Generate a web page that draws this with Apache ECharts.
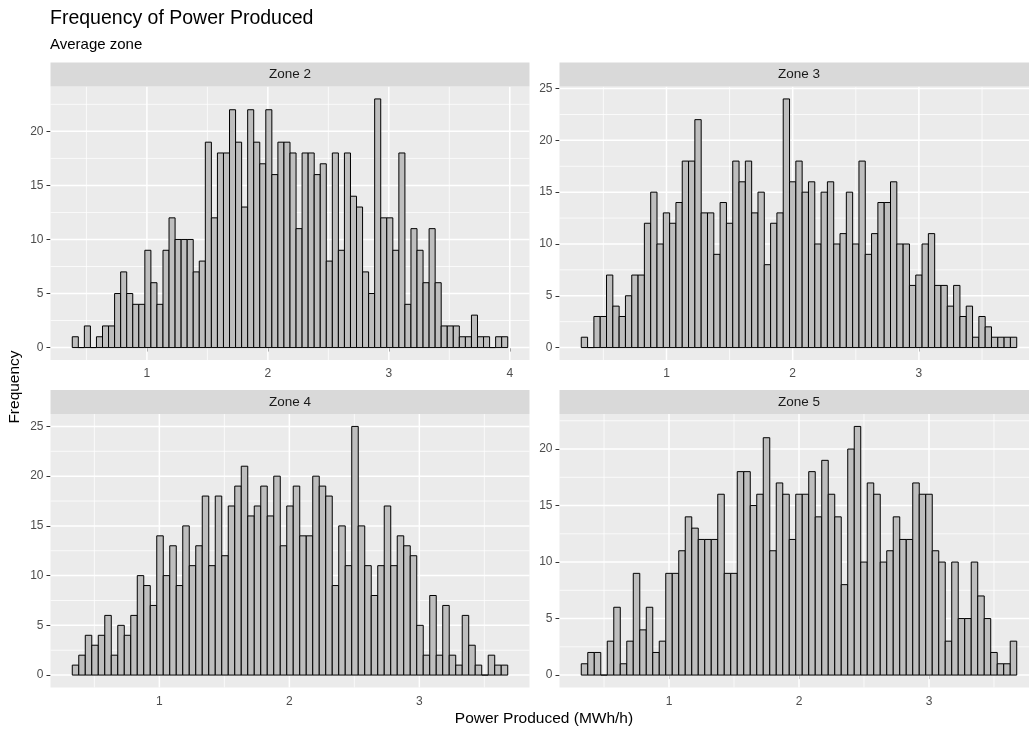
<!DOCTYPE html>
<html>
<head>
<meta charset="utf-8">
<script src="https://cdn.jsdelivr.net/npm/echarts@6/dist/echarts.min.js"></script>
<style>html,body{margin:0;padding:0;background:#fff}#c{width:1029px;height:731px}</style>
</head>
<body>
<div id="c"></div>
<script>
// ---------------- data ----------------
const zoneNames = ['Zone 2', 'Zone 3', 'Zone 4', 'Zone 5'];
const binWidth = 0.05;
const binStarts = [0.383, 0.325, 0.33, 0.325];

const zone2Counts = [1,0,2,0,1,2,2,5,7,5,4,4,9,6,4,9,12,10,10,10,7,8,
  19,12,18,18,22,19,13,22,19,17,22,16,19,19,18,11,18,18,16,17,8,18,9,18,14,13,7,
  5,23,12,12,9,18,4,11,9,6,11,6,2,2,2,1,1,3,1,1,0,1,1];
const zone3Counts = [1,0,3,3,7,4,3,5,7,7,12,15,10,13,12,14,18,18,22,13,13,9,
  14,12,18,16,18,13,15,8,12,13,24,16,18,15,16,10,15,16,10,11,15,10,18,
  9,11,14,14,16,10,10,6,7,10,11,6,6,4,6,3,4,1,3,2,1,1,1,1];
const zone4Counts = [1,2,4,3,4,6,2,5,4,6,10,9,7,14,10,13,9,15,11,13,18,11,
  18,12,17,19,21,16,17,19,16,20,13,17,19,14,14,20,19,18,9,15,11,25,
  15,11,8,11,17,11,14,13,12,5,2,8,2,7,2,1,6,3,1,0,2,1,1];
const zone5Counts = [1,2,2,0,3,6,1,3,9,4,6,2,3,9,9,11,14,13,12,12,12,16,
  9,9,18,18,15,16,21,11,17,16,12,16,16,18,14,19,16,14,8,20,22,10,17,
  16,10,11,14,12,12,17,16,16,11,10,3,10,5,5,10,7,5,2,1,1,3];

const xTicks = [[1,2,3,4],[1,2,3],[1,2,3],[1,2,3]];
const xMinor = [[0.5,1.5,2.5,3.5],[0.5,1.5,2.5,3.5],[0.5,1.5,2.5,3.5],[0.5,1.5,2.5,3.5]];
const yTicks = [[0,5,10,15,20],[0,5,10,15,20,25],[0,5,10,15,20,25],[0,5,10,15,20]];
const yMinor = [[2.5,7.5,12.5,17.5,22.5],[2.5,7.5,12.5,17.5,22.5],[2.5,7.5,12.5,17.5,22.5],[2.5,7.5,12.5,17.5,22.5]];

const titleText = 'Frequency of Power Produced';
const subtitleText = 'Average zone';
const xTitle = 'Power Produced (MWh/h)';
const yTitle = 'Frequency';

// ---------------- layout ----------------
const FONT = '"Liberation Sans", Arial, Helvetica, sans-serif';
const panels = [
  {left: 50.5, top: 86.5, width: 479, height: 273.5},
  {left: 559.5, top: 86.5, width: 479, height: 273.5},
  {left: 50.5, top: 414, width: 479, height: 273.5},
  {left: 559.5, top: 414, width: 479, height: 273.5}
];
const stripH = 24;

const countsByZone = [zone2Counts, zone3Counts, zone4Counts, zone5Counts];
const grids = [], xAxes = [], yAxes = [], series = [], graphics = [];

panels.forEach((p, i) => {
  const counts = countsByZone[i];
  const x0 = binStarts[i];
  const x1 = x0 + counts.length * binWidth;
  const xPad = (x1 - x0) * 0.05;
  const xMin = x0 - xPad, xMax = x1 + xPad;
  const yTop = Math.max.apply(null, counts);
  const yMin = -0.05 * yTop, yMax = 1.05 * yTop;

  grids.push({left: p.left, top: p.top, width: p.width, height: p.height,
    show: true, backgroundColor: '#ebebeb', borderWidth: 0, containLabel: false, outerBoundsMode: 'none'});

  xAxes.push({type: 'value', gridIndex: i, min: xMin, max: xMax,
    axisLine: {show: false},
    axisTick: {show: true, customValues: xTicks[i], length: 4, lineStyle: {color: '#333333', width: 1}},
    axisLabel: {show: true, customValues: xTicks[i], color: '#4d4d4d', fontSize: 12, fontFamily: FONT, margin: 8},
    splitLine: {show: false}, minorSplitLine: {show: false}});
  yAxes.push({type: 'value', gridIndex: i, min: yMin, max: yMax,
    axisLine: {show: false},
    axisTick: {show: true, customValues: yTicks[i], length: 4, lineStyle: {color: '#333333', width: 1}},
    axisLabel: {show: true, customValues: yTicks[i], color: '#4d4d4d', fontSize: 12, fontFamily: FONT, margin: 7},
    splitLine: {show: false}, minorSplitLine: {show: false}});

  // grid lines (drawn through the axis scales)
  const gridData = [];
  xMinor[i].forEach(v => gridData.push([v, 0, 0]));
  yMinor[i].forEach(v => gridData.push([v, 1, 0]));
  xTicks[i].forEach(v => gridData.push([v, 0, 1]));
  yTicks[i].forEach(v => gridData.push([v, 1, 1]));
  series.push({type: 'custom', xAxisIndex: i, yAxisIndex: i, z: 1, silent: true,
    encode: {x: 0, y: 0},
    data: gridData,
    renderItem: function (params, api) {
      const v = api.value(0), kind = api.value(1), major = api.value(2);
      const cs = params.coordSys;
      const lw = major ? 1.5 : 0.75;
      if (kind === 0) {
        const x = api.coord([v, 0])[0];
        return {type: 'line', shape: {x1: x, y1: cs.y, x2: x, y2: cs.y + cs.height},
          style: {stroke: '#ffffff', lineWidth: lw}};
      } else {
        const y = api.coord([1, v])[1];
        return {type: 'line', shape: {x1: cs.x, y1: y, x2: cs.x + cs.width, y2: y},
          style: {stroke: '#ffffff', lineWidth: lw}};
      }
    }});

  // histogram bars
  const barData = counts.map((c, k) => [x0 + k * binWidth, x0 + (k + 1) * binWidth, c]);
  series.push({type: 'custom', xAxisIndex: i, yAxisIndex: i, z: 2, silent: true,
    encode: {x: [0, 1], y: 2},
    data: barData,
    renderItem: function (params, api) {
      const a = api.coord([api.value(0), api.value(2)]);
      const b = api.coord([api.value(1), 0]);
      return {type: 'rect', shape: {x: a[0], y: a[1], width: b[0] - a[0], height: b[1] - a[1]},
        style: {fill: '#bebebe', stroke: '#000000', lineWidth: 1}};
    }});

  // facet strip
  graphics.push({type: 'rect', z: 10, shape: {x: p.left, y: p.top - stripH, width: p.width, height: stripH},
    style: {fill: '#d9d9d9'}});
  graphics.push({type: 'text', z: 11, x: p.left + p.width / 2, y: p.top - stripH / 2,
    style: {text: zoneNames[i], fontSize: 13.5, fontFamily: FONT, fill: '#1a1a1a', align: 'center', verticalAlign: 'middle'}});
});

graphics.push({type: 'text', z: 11, x: 50, y: 19,
  style: {text: titleText, fontSize: 19.5, fontFamily: FONT, fill: '#000', align: 'left', verticalAlign: 'middle'}});
graphics.push({type: 'text', z: 11, x: 50, y: 45,
  style: {text: subtitleText, fontSize: 15, fontFamily: FONT, fill: '#000', align: 'left', verticalAlign: 'middle'}});
graphics.push({type: 'text', z: 11, x: 544, y: 719,
  style: {text: xTitle, fontSize: 15.5, fontFamily: FONT, fill: '#000', align: 'center', verticalAlign: 'middle'}});
graphics.push({type: 'text', z: 11, x: 15, y: 387, rotation: Math.PI / 2,
  style: {text: yTitle, fontSize: 15.5, fontFamily: FONT, fill: '#000', align: 'center', verticalAlign: 'middle'}});

const chart = echarts.init(document.getElementById('c'), null, {renderer: 'canvas'});
chart.setOption({
  animation: false,
  backgroundColor: '#ffffff',
  grid: grids,
  xAxis: xAxes,
  yAxis: yAxes,
  series: series,
  graphic: graphics
});
</script>
</body>
</html>
